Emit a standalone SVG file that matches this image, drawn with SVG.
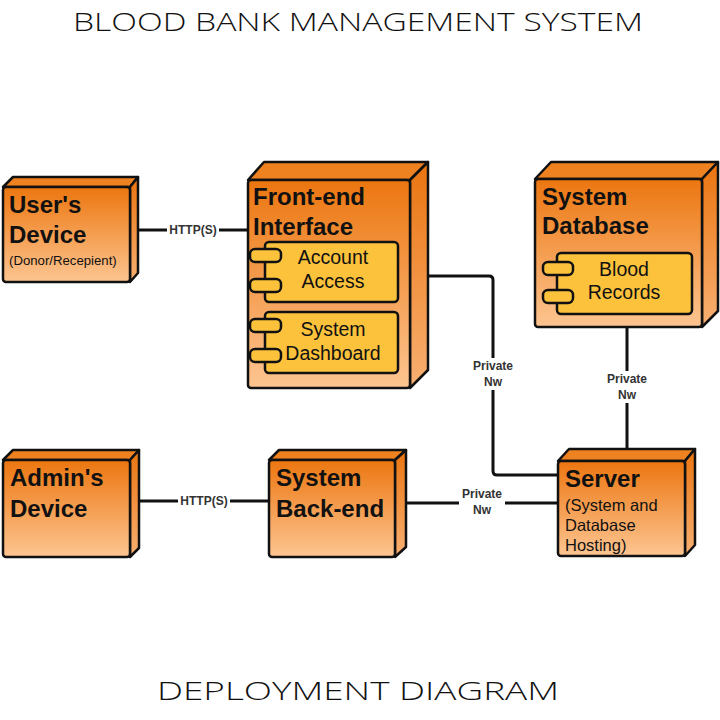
<svg xmlns="http://www.w3.org/2000/svg" width="720" height="720" viewBox="0 0 720 720">
<defs>
<linearGradient id="gFront" x1="0" y1="0" x2="0" y2="1">
<stop offset="0" stop-color="#EC7610"/>
<stop offset="1" stop-color="#FDC591"/>
</linearGradient>
<linearGradient id="gSide" x1="0" y1="0" x2="0" y2="1">
<stop offset="0" stop-color="#EA7410"/>
<stop offset="1" stop-color="#F8B072"/>
</linearGradient>
<style>
.top{fill:#EE8220;stroke:#111;stroke-width:2.5;stroke-linejoin:round}
.side{fill:url(#gSide);stroke:#111;stroke-width:2.5;stroke-linejoin:round}
.front{fill:url(#gFront);stroke:#111;stroke-width:2.5}
.comp{fill:#FCC23C;stroke:#111;stroke-width:2.5}
.ttl{font-family:"Liberation Sans",Arial,sans-serif;font-weight:bold;font-size:24px;fill:#111}
.sub{font-family:"Liberation Sans",Arial,sans-serif;font-size:13.2px;fill:#111}
.sub2{font-family:"Liberation Sans",Arial,sans-serif;font-size:16.5px;fill:#111}
.ctext{font-family:"Liberation Sans",Arial,sans-serif;font-size:19.5px;fill:#111;text-anchor:middle}
.lbl{font-family:"Liberation Sans",Arial,sans-serif;font-weight:bold;font-size:12px;fill:#333;text-anchor:middle}
.line{fill:none;stroke:#111;stroke-width:3;stroke-linejoin:round}
.big{font-family:"Open Sans","Noto Sans",sans-serif;font-weight:300;font-size:26.5px;fill:#111;text-anchor:middle}
</style>
</defs>
<rect width="720" height="720" fill="#fff"/>
<text class="big" x="358" y="31" textLength="570" lengthAdjust="spacingAndGlyphs">BLOOD BANK MANAGEMENT SYSTEM</text>
<text class="big" x="358" y="700" textLength="402" lengthAdjust="spacingAndGlyphs">DEPLOYMENT DIAGRAM</text>

<g id="connectors">
<path class="line" d="M138 230 H248"/>
<path class="line" d="M428 276 H489 Q493 276 493 280 V471 Q493 475 497 475 H558"/>
<path class="line" d="M627 327 V449"/>
<path class="line" d="M139 501 H269"/>
<path class="line" d="M406 503 H558"/>
<rect x="167" y="222" width="52" height="16" fill="#fff"/>
<text class="lbl" x="193" y="234">HTTP(S)</text>
<rect x="178" y="493" width="52" height="16" fill="#fff"/>
<text class="lbl" x="204" y="505">HTTP(S)</text>
<rect x="470" y="358" width="46" height="32" fill="#fff"/>
<text class="lbl" x="493" y="370">Private</text>
<text class="lbl" x="493" y="386">Nw</text>
<rect x="604" y="371" width="46" height="32" fill="#fff"/>
<text class="lbl" x="627" y="383">Private</text>
<text class="lbl" x="627" y="399">Nw</text>
<rect x="459" y="486" width="46" height="31" fill="#fff"/>
<text class="lbl" x="482" y="498">Private</text>
<text class="lbl" x="482" y="514">Nw</text>
</g>

<g id="users-device">
<path class="top" d="M3 187 L13 177 H138 L130 187 Z"/>
<path class="side" d="M130 187 L138 177 V273 L130 282 Z"/>
<rect class="front" x="3" y="187" width="127" height="95" rx="3"/>
<text class="ttl" x="9" y="213">User's</text>
<text class="ttl" x="9" y="243">Device</text>
<text class="sub" x="9" y="265">(Donor/Recepient)</text>
</g>

<g id="front-end">
<path class="top" d="M248 180 L264 162 H428 L410 180 Z"/>
<path class="side" d="M410 180 L428 162 V370 L410 388 Z"/>
<rect class="front" x="248" y="180" width="162" height="208" rx="3"/>
<text class="ttl" x="253" y="205">Front-end</text>
<text class="ttl" x="253" y="235">Interface</text>
<rect class="comp" x="265" y="242" width="133" height="60" rx="4"/>
<rect class="comp" x="250" y="249" width="31" height="13" rx="5"/>
<rect class="comp" x="250" y="279" width="31" height="13" rx="5"/>
<text class="ctext" x="333" y="264">Account</text>
<text class="ctext" x="333" y="288">Access</text>
<rect class="comp" x="265" y="312" width="133" height="61" rx="4"/>
<rect class="comp" x="250" y="319" width="31" height="13" rx="5"/>
<rect class="comp" x="250" y="349" width="31" height="13" rx="5"/>
<text class="ctext" x="333" y="336">System</text>
<text class="ctext" x="333" y="360">Dashboard</text>
</g>

<g id="system-database">
<path class="top" d="M535 179 L551 162 H718 L702 179 Z"/>
<path class="side" d="M702 179 L718 162 V311 L702 327 Z"/>
<rect class="front" x="535" y="179" width="167" height="148" rx="3"/>
<text class="ttl" x="542" y="205">System</text>
<text class="ttl" x="542" y="234">Database</text>
<rect class="comp" x="557" y="253" width="135" height="61" rx="4"/>
<rect class="comp" x="543" y="262" width="30" height="13" rx="5"/>
<rect class="comp" x="543" y="290" width="30" height="13" rx="5"/>
<text class="ctext" x="624" y="276">Blood</text>
<text class="ctext" x="624" y="299">Records</text>
</g>

<g id="admins-device">
<path class="top" d="M3 460 L13 450 H139 L130 460 Z"/>
<path class="side" d="M130 460 L139 450 V548 L130 557 Z"/>
<rect class="front" x="3" y="460" width="127" height="97" rx="3"/>
<text class="ttl" x="10" y="486">Admin's</text>
<text class="ttl" x="10" y="517">Device</text>
</g>

<g id="system-back-end">
<path class="top" d="M269 460 L279 450 H406 L395 460 Z"/>
<path class="side" d="M395 460 L406 450 V547 L395 557 Z"/>
<rect class="front" x="269" y="460" width="126" height="97" rx="3"/>
<text class="ttl" x="276" y="486">System</text>
<text class="ttl" x="276" y="517">Back-end</text>
</g>

<g id="server">
<path class="top" d="M558 461 L569 449 H695 L685 461 Z"/>
<path class="side" d="M685 461 L695 449 V545 L685 556 Z"/>
<rect class="front" x="558" y="461" width="127" height="95" rx="3"/>
<text class="ttl" x="565" y="487">Server</text>
<text class="sub2" x="565" y="511">(System and</text>
<text class="sub2" x="565" y="531">Database</text>
<text class="sub2" x="565" y="551">Hosting)</text>
</g>
</svg>
